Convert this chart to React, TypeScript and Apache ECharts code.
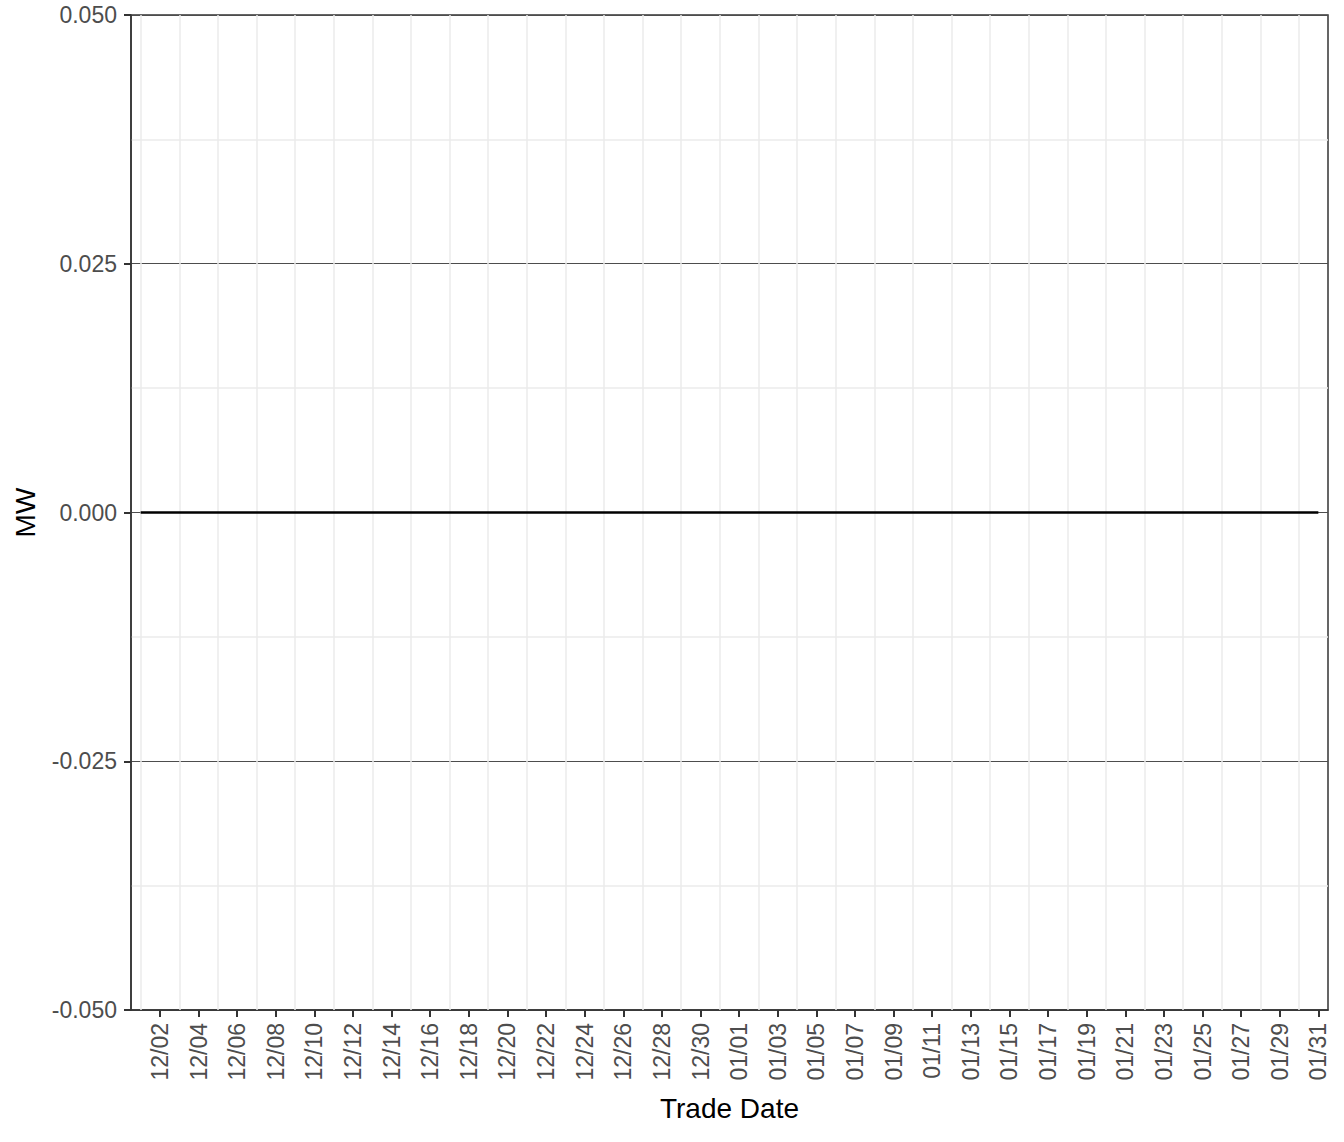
import { useEffect, useRef } from 'react';
import * as echarts from 'echarts';

// trade dates 12/01 .. 01/31
const decDays = Array.from({ length: 31 }, (_, i) => `12/${String(i + 1).padStart(2, '0')}`);
const janDays = Array.from({ length: 31 }, (_, i) => `01/${String(i + 1).padStart(2, '0')}`);
const tradeDates = [...decDays, ...janDays];
// MW values, flat at zero for every day
const mwValues = [
  0, 0, 0, 0, 0, 0, 0, 0, 0, 0, 0, 0, 0, 0, 0, 0, 0, 0, 0, 0, 0, 0, 0, 0, 0, 0, 0, 0, 0, 0, 0,
  0, 0, 0, 0, 0, 0, 0, 0, 0, 0, 0, 0, 0, 0, 0, 0, 0, 0, 0, 0, 0, 0, 0, 0, 0, 0, 0, 0, 0, 0, 0,
];

const FONT = '"Liberation Sans", Arial, Helvetica, sans-serif';

const App = () => {
  const chartDom = useRef<HTMLDivElement>(null);

  useEffect(() => {
    const chart = echarts.init(chartDom.current, null, { renderer: 'svg' });
    const everyOther = (i: number) => i % 2 === 1;

    const option = {
      animation: false,
      grid: {
        left: 131,
        right: 16,
        top: 15,
        bottom: 132,
        show: true,
        borderColor: '#333333',
        borderWidth: 1.5,
        backgroundColor: 'transparent',
      },
      xAxis: {
        type: 'category',
        data: tradeDates,
        boundaryGap: true,
        name: 'Trade Date',
        nameLocation: 'middle',
        nameGap: 84,
        nameTextStyle: { color: '#000', fontSize: 28, fontFamily: FONT },
        axisLine: { show: true, onZero: false, lineStyle: { color: '#333333', width: 1.5 } },
        axisTick: {
          show: true,
          alignWithLabel: true,
          interval: everyOther,
          length: 7,
          lineStyle: { color: '#333333', width: 2 },
        },
        axisLabel: {
          interval: everyOther,
          rotate: 90,
          margin: 13,
          fontSize: 23,
          color: '#4d4d4d',
          fontFamily: FONT,
        },
        splitLine: { show: false },
      },
      yAxis: {
        type: 'value',
        min: -0.05,
        max: 0.05,
        interval: 0.025,
        name: 'MW',
        nameLocation: 'middle',
        nameRotate: 90,
        nameGap: 92,
        nameTextStyle: { color: '#000', fontSize: 28, fontFamily: FONT },
        axisLine: { show: true, lineStyle: { color: '#333333', width: 1.5 } },
        axisTick: { show: true, length: 7, lineStyle: { color: '#333333', width: 2 } },
        axisLabel: {
          margin: 14,
          fontSize: 23,
          color: '#4d4d4d',
          fontFamily: FONT,
          formatter: (v: number) => v.toFixed(3),
        },
        splitLine: { show: true, lineStyle: { color: '#4d4d4d', width: 1 } },
        minorTick: { show: false, splitNumber: 2 },
        minorSplitLine: { show: true, lineStyle: { color: '#ebebeb', width: 1.5 } },
      },
      series: [
        {
          // vertical grid lines on the odd days
          type: 'line',
          data: [],
          silent: true,
          z: 1,
          markLine: {
            silent: true,
            symbol: ['none', 'none'],
            label: { show: false },
            animation: false,
            lineStyle: { color: '#ebebeb', width: 1.5, type: 'solid' },
            data: tradeDates.filter((_, i) => i % 2 === 0).map((d) => ({ xAxis: d })),
          },
        },
        {
          type: 'line',
          data: mwValues,
          showSymbol: false,
          symbol: 'none',
          z: 5,
          lineStyle: { color: '#000000', width: 2.6 },
        },
      ],
    };

    chart.setOption(option);
    return () => {
      chart.dispose();
    };
  }, []);

  return (
    <div
      ref={chartDom}
      style={{ position: 'absolute', left: 0, top: 0, width: 1344, height: 1142, background: '#fff' }}
    />
  );
};

export default App;
